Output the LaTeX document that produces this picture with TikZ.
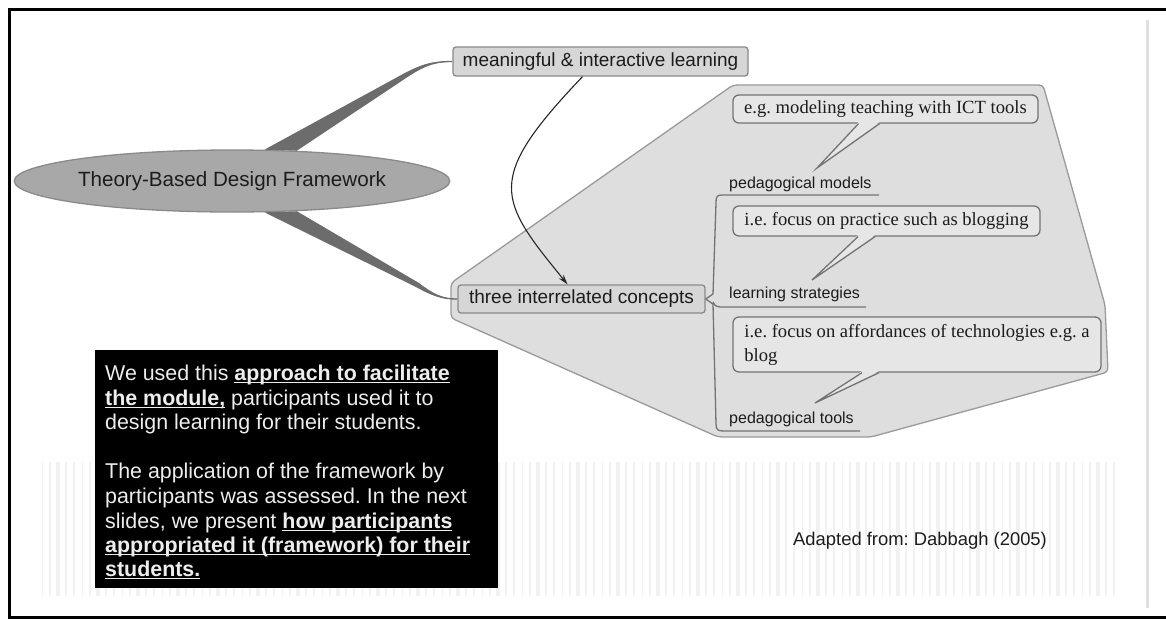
\documentclass[tikz,border=0pt]{standalone}
\usepackage{fontspec}
\setmainfont{Liberation Sans}
\newfontfamily\serifbub{Liberation Serif}
\usetikzlibrary{arrows.meta,shapes.geometric}
\definecolor{wedgec}{HTML}{6C6C6C}
\definecolor{ellfill}{HTML}{A8A8A8}
\definecolor{ellline}{HTML}{8A8A8A}
\definecolor{boxfill}{HTML}{D6D6D6}
\definecolor{boxline}{HTML}{8A8A8A}
\definecolor{polyfill}{HTML}{DEDEDE}
\definecolor{polyline}{HTML}{9A9A9A}
\definecolor{bubfill}{HTML}{E6E6E6}
\definecolor{bubline}{HTML}{737373}
\definecolor{txt}{HTML}{1C1C1C}
\definecolor{stripe}{HTML}{F1F1F1}
\definecolor{wtxt}{HTML}{EDEDED}
\definecolor{arrowc}{HTML}{262626}
\pgfdeclarelayer{back}
\pgfsetlayers{back,main}
\newcommand{\myul}[1]{\setbox0\hbox{#1}\rlap{\rule[-3pt]{\wd0}{1.4pt}}\box0\relax}
\frenchspacing
\begin{document}
\begin{tikzpicture}[x=1pt,y=-1pt,
  mapbox/.style={draw=boxline, fill=boxfill, line width=1.3pt, rounded corners=3pt, inner sep=0pt, text=txt, font=\fontsize{19}{22}\selectfont},
  bubble/.style={draw=bubline, fill=bubfill, line width=1.3pt, rounded corners=6pt, inner sep=0pt, text=txt, font=\serifbub\fontsize{18.6}{24}\selectfont},
  lbl/.style={anchor=base west, inner sep=0pt, text=txt, font=\fontsize{16}{18}\selectfont},
  wline/.style={anchor=base west, inner sep=0pt, text=wtxt, font=\fontsize{21.4}{24}\selectfont},
  brk/.style={draw=bubline, line width=1.3pt},
  tailfill/.style={fill=bubfill},
  wedgefill/.style={fill=wedgec},
  framec/.style={draw=black, line width=3pt},
]
\useasboundingbox (0,0) rectangle (1166,619);

% central ellipse and main boxes
\node[ellipse, draw=ellline, fill=ellfill, line width=1.3pt, minimum width=352pt, minimum height=62pt, inner sep=0pt, text=txt, font=\fontsize{20.6}{24}\selectfont] (theory) at (232,181) {Theory-Based Design Framework};
\node[mapbox, minimum width=295pt, minimum height=29pt] (mil) at (600.5,61.5) {meaningful \& interactive learning};
\node[mapbox, minimum width=247pt, minimum height=28pt] (tic) at (581.5,299) {three interrelated concepts};

\begin{pgfonlayer}{back}
  \fill[white] (0,0) rectangle (1166,619);
  \foreach \i in {0,...,134} {
    \pgfmathsetmacro{\xx}{42+8*\i}
    \pgfmathsetmacro{\ww}{mod(\i*7,5)*0.6+0.8}
    \draw[stripe, line width=\ww pt] (\xx,462) -- (\xx,596);
  }
  % callout region
  \draw[draw=polyline, fill=polyfill, line width=1.3pt, rounded corners=4pt]
    (451,283) -- (733,85) -- (1043,85) -- (1105,305) -- (1108,372) -- (871,437) -- (718,437) -- (451,318) -- cycle;
  % tapered branches
  \fill[wedgefill] (theory.44) -- (403,74) .. controls (418,66) and (428,61.5) .. (mil.west)
     .. controls (430,62.5) and (420,69) .. (406,78) -- (theory.25) -- cycle;
  \draw[wedgec, line width=1.3pt] (404,76) .. controls (418,67) and (428,61.5) .. (mil.west);
  \fill[wedgefill] (theory.-44) -- (416,287) .. controls (432,296) and (442,299.5) .. (tic.west)
     .. controls (442,298.5) and (432,293) .. (419,283) -- (theory.-25) -- cycle;
  \draw[wedgec, line width=1.3pt] (417,285) .. controls (432,295) and (442,299.2) .. (tic.west);
\end{pgfonlayer}

% bubbles
\node[bubble, minimum width=305pt, minimum height=28pt] (b1) at (885.5,109) {e.g. modeling teaching with ICT tools};
\node[bubble, minimum width=307pt, minimum height=30pt] (b2) at (886.5,221) {i.e. focus on practice such as blogging};
\node[bubble, minimum width=368pt, minimum height=55pt, align=left] (b3) at (917,344.5) {i.e. focus on affordances of technologies e.g. a\\blog};

% labels
\node[lbl] (pm) at (729,188) {pedagogical models};
\node[lbl] (ls) at (729,298) {learning strategies};
\node[lbl] (pt) at (729,423) {pedagogical tools};

% tails
\fill[tailfill] ([xshift=-27pt,yshift=1.6pt]b1.south) -- (817,168) -- ([xshift=-6pt,yshift=1.6pt]b1.south) -- cycle;
\draw[brk] ([xshift=-27pt]b1.south) -- (817,168) -- ([xshift=-6pt]b1.south);
\fill[tailfill] ([xshift=-28.5pt,yshift=1.6pt]b2.south) -- (812,280) -- ([xshift=-11.5pt,yshift=1.6pt]b2.south) -- cycle;
\draw[brk] ([xshift=-28.5pt]b2.south) -- (812,280) -- ([xshift=-11.5pt]b2.south);
\fill[tailfill] ([xshift=-55pt,yshift=1.6pt]b3.south) -- (815,403) -- ([xshift=-38pt,yshift=1.6pt]b3.south) -- cycle;
\draw[brk] ([xshift=-55pt]b3.south) -- (815,403) -- ([xshift=-38pt]b3.south);

% bracket joining the three concepts
\draw[brk] (879,195) -- (722,195) .. controls (716.5,195) and (716,197) .. (716,203) -- (713,294) -- (tic.east);
\draw[brk] (tic.east) -- (713,304) -- (716,424) .. controls (716,430) and (718,431) .. (724,431) -- (860,431);
\draw[brk] (713,302) .. controls (715,307) and (718,307) .. (724,307) -- (866,307);

% curved arrow
\draw[arrowc, line width=1.1pt, -{Stealth[length=10pt,width=6pt]}] ([xshift=-18pt]mil.south) .. controls (484,180) and (498,199) .. ([xshift=-14pt]tic.north);

% black text panel
\node[fill=black, minimum width=403pt, minimum height=238pt, inner sep=0pt, anchor=north west] (panel) at (95,350) {};
\node[wline] (l1) at (105,380) {We used this \myul{\bfseries approach to facilitate}};
\node[wline] (l2) at (105,405) {\myul{\bfseries the module,} participants used it to};
\node[wline] (l3) at (105,429) {design learning for their students.};
\node[wline] (l4) at (105,478) {The application of the framework by};
\node[wline] (l5) at (105,503) {participants was assessed. In the next};
\node[wline] (l6) at (105,528) {slides, we present \myul{\bfseries how participants}};
\node[wline] (l7) at (105,552) {\myul{\bfseries appropriated it (framework) for their}};
\node[wline] (l8) at (105,576) {\myul{\bfseries students.}};

% source
\node[anchor=base west, inner sep=0pt, text=txt, font=\fontsize{18.4}{22}\selectfont] (src) at (793,545) {Adapted from: Dabbagh (2005)};

% frame and right rule
\draw[draw=black!12, line width=3pt] (1147,20) -- (1147,608);
\draw[framec] (1166,9.5) -- (9.5,9.5) -- (9.5,617.5) -- (1166,617.5);
\end{tikzpicture}
\end{document}
